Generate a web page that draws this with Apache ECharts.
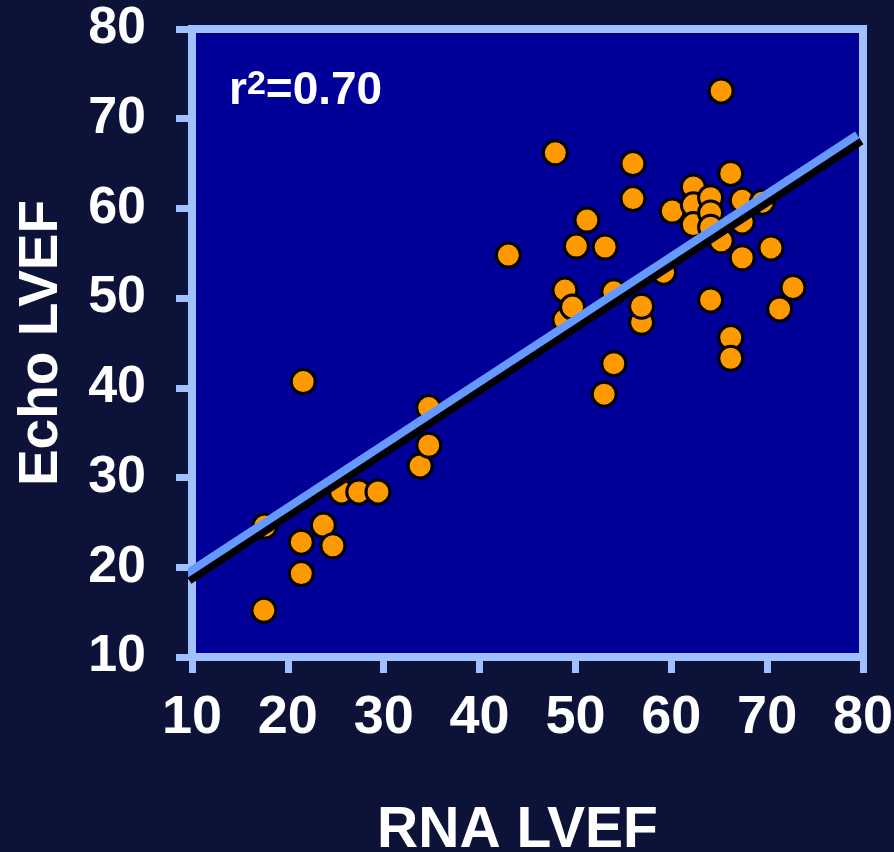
<!DOCTYPE html>
<html>
<head>
<meta charset="utf-8">
<script src="https://cdn.jsdelivr.net/npm/echarts@6/dist/echarts.min.js"></script>
<style>
html,body{margin:0;padding:0;background:#0d1238;}
#chart{width:894px;height:852px;}
</style>
</head>
<body>
<div id="chart"></div>
<script>
var rnaLVEF = [17.6,17.5,21.6,21.4,21.4,23.7,24.7,25.6,27.4,29.4,33.8,34.7,34.7,43.0,47.9,48.9,48.9,49.7,50.1,51.2,53.0,53.1,54.0,54.0,56.0,56.0,56.9,56.9,59.2,60.1,62.3,62.3,62.3,65.2,64.1,64.1,64.1,65.2,64.1,66.2,66.2,66.2,67.4,67.4,67.4,69.5,70.4,71.3,72.7];
var echoLVEF = [24.6,15.2,40.7,22.8,19.3,24.7,22.4,28.4,28.4,28.4,31.3,33.6,37.8,54.8,66.2,50.9,47.6,49.0,55.8,58.7,39.3,55.7,50.7,42.7,65.0,61.1,47.3,49.1,52.9,59.7,62.4,60.4,58.2,73.1,61.2,59.5,57.9,56.4,49.8,63.9,45.6,43.3,60.9,58.5,54.5,60.7,55.6,48.8,51.2];
var fitX = [9.3, 79.4];
var fitY = [19.2, 68.2];
var axisTicks = [10,20,30,40,50,60,70,80];
var rSquaredLabel = '0.70';

var points = rnaLVEF.map(function(x, i){ return [x, echoLVEF[i]]; });
var fitLine = fitX.map(function(x, i){ return [x, fitY[i]]; });

var axisBlue = '#a0c0ff';
var chart = echarts.init(document.getElementById('chart'), null, {renderer:'canvas'});
var font = 'Liberation Sans, Arial, sans-serif';

function axisCommon(){
  return {
    type:'value', min:10, max:80, interval:10,
    axisLine:{show:true, lineStyle:{color:axisBlue, width:8}},
    axisTick:{show:true, inside:false, length:16, lineStyle:{color:axisBlue, width:7}},
    splitLine:{show:false}
  };
}
var xAxis = axisCommon();
xAxis.name = 'RNA LVEF';
xAxis.nameLocation = 'middle';
xAxis.nameGap = 146;
xAxis.nameTextStyle = {color:'#fff', fontSize:57, fontWeight:'bold', fontFamily:font,
  padding:[0, 20, 0, 0],
  textShadowColor:'#000', textShadowOffsetX:3, textShadowOffsetY:3, textShadowBlur:0};
xAxis.axisLabel = {color:'#fff', fontSize:54, fontWeight:'bold', fontFamily:font, margin:34,
  formatter:function(v){ return axisTicks.indexOf(v) >= 0 ? String(v) : ''; }};

var yAxis = axisCommon();
yAxis.name = 'Echo LVEF';
yAxis.nameLocation = 'middle';
yAxis.nameRotate = 90;
yAxis.nameGap = 123;
yAxis.nameTextStyle = {color:'#fff', fontSize:55, fontWeight:'bold', fontFamily:font,
  textShadowColor:'#000', textShadowOffsetX:3, textShadowOffsetY:3, textShadowBlur:0};
yAxis.axisLabel = {color:'#fff', fontSize:52, fontWeight:'bold', fontFamily:font, margin:46,
  formatter:function(v){ return axisTicks.indexOf(v) >= 0 ? String(v) : ''; }};

chart.setOption({
  backgroundColor:'#0d1238',
  animation:false,
  grid:{left:192, right:31, top:29, bottom:195, show:true, backgroundColor:'#000099',
    borderColor:axisBlue, borderWidth:8, containLabel:false, outerBoundsMode:'none'},
  xAxis:xAxis,
  yAxis:yAxis,
  graphic:[{
    type:'text', left:229, top:68, z:10,
    style:{
      text:'r{sup|2}=' + rSquaredLabel,
      fill:'#fff', fontSize:46, fontWeight:'bold', fontFamily:font,
      textShadowColor:'#000', textShadowOffsetX:4, textShadowOffsetY:4, textShadowBlur:0,
      rich:{sup:{fontSize:34, fontWeight:'bold', fontFamily:font, verticalAlign:'top', fill:'#fff',
        textShadowColor:'#000', textShadowOffsetX:4, textShadowOffsetY:4, textShadowBlur:0}}
    }
  }],
  series:[{
    type:'line', data:fitLine, clip:false, symbol:'none',
    lineStyle:{color:'#6699ff', width:8, shadowColor:'#000', shadowOffsetX:4, shadowOffsetY:6, shadowBlur:0}
  },{
    type:'scatter', data:points, symbol:'circle', symbolSize:24,
    itemStyle:{color:'#ff9900', borderColor:'#000', borderWidth:3, opacity:1}
  }]
});
</script>
</body>
</html>
